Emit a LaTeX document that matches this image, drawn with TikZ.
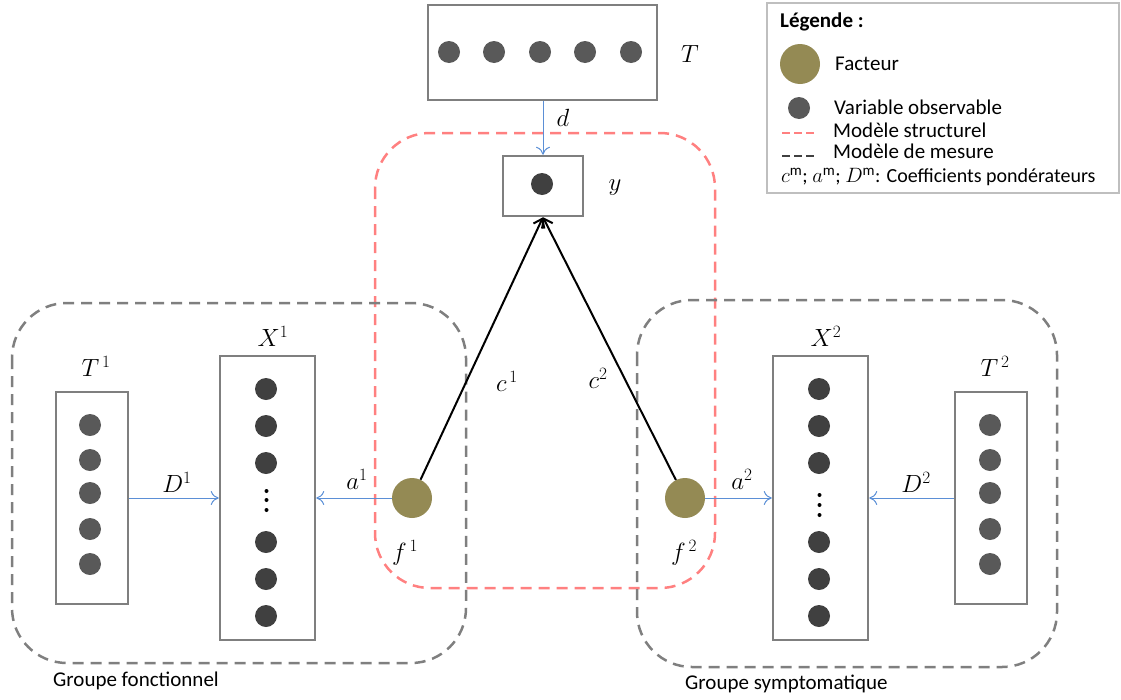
\documentclass[tikz,border=0pt]{standalone}
\usepackage{fontspec}
\setmainfont{Carlito}
\usetikzlibrary{arrows.meta}
\definecolor{boxgray}{RGB}{127,127,127}
\definecolor{dotdark}{RGB}{64,64,64}
\definecolor{dotmid}{RGB}{89,89,89}
\definecolor{factor}{RGB}{148,138,84}
\definecolor{redd}{RGB}{255,128,128}
\definecolor{bluea}{RGB}{91,143,214}
\definecolor{leggray}{RGB}{191,191,191}
\newcommand{\msup}{\mbox{\fontsize{15}{15}\selectfont m}}
\tikzset{
  vbox/.style={draw=boxgray,line width=2.5pt,minimum width=#1,inner sep=0pt},
  dotX/.style={circle,fill=dotdark,minimum size=22pt,inner sep=0pt},
  dotT/.style={circle,fill=dotmid,minimum size=22pt,inner sep=0pt},
  smalldot/.style={circle,fill=black,minimum size=4pt,inner sep=0pt},
  factornode/.style={circle,fill=factor,minimum size=40pt,inner sep=0pt},
  blueconn/.style={draw=bluea,line width=1pt,-{To[length=8pt,width=14pt]}},
  blackconn/.style={draw=black,line width=2pt,-{Straight Barb[length=8pt,width=12pt]}},
  mlabel/.style={font=\fontsize{25}{30}\selectfont,inner sep=0pt},
  txt/.style={font=\fontsize{21}{25}\selectfont,inner sep=0pt,anchor=west},
  graydash/.style={draw=boxgray,line width=2.5pt,dash pattern=on 11pt off 7pt,rounded corners=55pt},
  reddash/.style={draw=redd,line width=2.5pt,dash pattern=on 11pt off 7pt,rounded corners=55pt},
}
\begin{document}
\begin{tikzpicture}[x=1pt,y=-1pt]
\useasboundingbox (0,0) rectangle (1121,699);
% group frames
\draw[reddash] (375,133) rectangle (715,588);
\draw[graydash] (12,303) rectangle (466,663);
\draw[graydash] (637,300) rectangle (1057,667);
% top T box
\node[vbox=229pt,minimum height=95pt] (Tbox) at (542.5,52.5) {};
\foreach \i/\x in {1/449,2/494,3/540,4/585,5/631}
  \node[dotT] (t\i) at (\x,52) {};
\node[mlabel] (Tlab) at (690,54) {$T$};
% y box
\node[vbox=80pt,minimum height=60pt] (ybox) at (543,186) {};
\node[dotX] (ydot) at (542,184) {};
\node[mlabel] (ylab) at (615,188) {$y$};
\draw[blueconn] (Tbox.south -| ybox.north) -- (ybox.north);
\node[mlabel] (dlab) at (563,118) {$d$};
% T1
\node[vbox=72pt,minimum height=212pt] (T1box) at (92,498) {};
\foreach \i/\y in {1/425,2/460,3/493,4/529,5/564}
  \node[dotT] (ta\i) at (90,\y) {};
\node[mlabel] (T1lab) at (96,366) {$T^{\,1}$};
% X1
\node[vbox=95pt,minimum height=284pt] (X1box) at (267.5,498) {};
\foreach \i/\y in {1/389,2/426,3/463,4/542,5/579,6/616}
  \node[dotX] (xa\i) at (266,\y) {};
\foreach \i/\y in {1/491,2/500,3/510}
  \node[smalldot] (va\i) at (266.5,\y) {};
\node[mlabel] (X1lab) at (273,336) {$X^{1}$};
% f1
\node[factornode] (f1) at (412,498) {};
\node[mlabel] (f1lab) at (405,553) {$f^{\,1}$};
\draw[blueconn] (T1box.east) -- (X1box.west);
\node[mlabel] (D1lab) at (177,482) {$D^{1}$};
\draw[blueconn] (f1.west) -- (X1box.east);
\node[mlabel] (a1lab) at (357,479) {$a^{1}$};
% X2
\node[vbox=95pt,minimum height=284pt] (X2box) at (820.5,498) {};
\foreach \i/\y in {1/389,2/426,3/463,4/542,5/579,6/616}
  \node[dotX] (xb\i) at (819,\y) {};
\foreach \i/\y in {1/495,2/505,3/515}
  \node[smalldot] (vb\i) at (819.5,\y) {};
\node[mlabel] (X2lab) at (826,336) {$X^{2}$};
% T2
\node[vbox=72pt,minimum height=212pt] (T2box) at (991,498) {};
\foreach \i/\y in {1/425,2/460,3/493,4/529,5/564}
  \node[dotT] (tb\i) at (990,\y) {};
\node[mlabel] (T2lab) at (995,366) {$T^{\,2}$};
% f2
\node[factornode] (f2) at (685,498) {};
\node[mlabel] (f2lab) at (684,553) {$f^{\,2}$};
\draw[blueconn] (f2.east) -- (X2box.west);
\node[mlabel] (a2lab) at (742,479) {$a^{2}$};
\draw[blueconn] (T2box.west) -- (X2box.east);
\node[mlabel] (D2lab) at (916,482) {$D^{2}$};
% structural links
\draw[blackconn] (f1) -- (ybox.south);
\draw[blackconn] (f2) -- (ybox.south);
\node[mlabel] (c1lab) at (507,381) {$c^{\,1}$};
\node[mlabel] (c2lab) at (598,378) {$c^{2}$};
% group labels
\node[txt] (g1) at (53,681) {Groupe fonctionnel};
\node[txt] (g2) at (685,684) {Groupe symptomatique};
% legend
\node[draw=leggray,line width=2.5pt,minimum width=352pt,minimum height=190pt,inner sep=0pt] (leg) at (943,98) {};
\node[txt,font=\fontsize{21}{25}\selectfont\bfseries] (legt) at (780,22) {Légende :};
\node[factornode] (legf) at (800,64) {};
\node[txt] (legft) at (835,64) {Facteur};
\node[dotT] (legd) at (799,108) {};
\node[txt] (legdt) at (834,107) {Variable observable};
\coordinate (r1) at (782,133); \coordinate (r2) at (815,133);
\draw[draw=redd,line width=2.5pt,dash pattern=on 8pt off 4pt] (r1) -- (r2);
\node[txt] (legrt) at (833,130) {Modèle structurel};
\coordinate (k1) at (782,156); \coordinate (k2) at (815,156);
\draw[draw=dotdark,line width=2.5pt,dash pattern=on 8pt off 4pt] (k1) -- (k2);
\node[txt] (legPt) at (833,151) {Modèle de mesure};
\node[txt] (legc) at (781,177) {\fontsize{20}{24}\selectfont$c^{\msup}$; $a^{\msup}$; $D^{\msup}$: Coefficients pondérateurs};
\end{tikzpicture}
\end{document}
